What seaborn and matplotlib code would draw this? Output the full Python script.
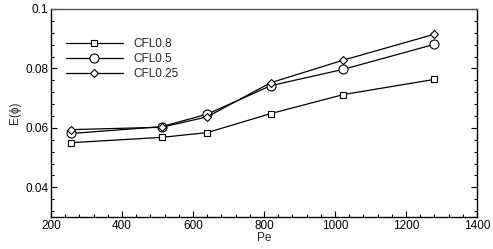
import numpy as np
import pandas as pd
import seaborn as sns
import matplotlib.pyplot as plt
from matplotlib.ticker import MultipleLocator

# Data
pe = [256, 512, 640, 819.2, 1024, 1280]
cfl08 = [0.0550, 0.0568, 0.0584, 0.0648, 0.0712, 0.0763]
cfl05 = [0.0581, 0.0604, 0.0646, 0.0742, 0.0797, 0.0881]
cfl025 = [0.0594, 0.0602, 0.0637, 0.0752, 0.0828, 0.0915]
names = ['CFL0.8', 'CFL0.5', 'CFL0.25']
marks = ['s', 'o', 'D']
msizes = [4.5, 6.5, 4.5]

sns.set_style('ticks')
plt.rcParams['font.family'] = ['Liberation Sans', 'DejaVu Sans']
plt.rcParams['font.size'] = 8.5

data = pd.DataFrame({'Pe': pe, 'CFL0.8': cfl08, 'CFL0.5': cfl05, 'CFL0.25': cfl025})

fig, ax = plt.subplots(figsize=(4.93, 2.49), dpi=100)
fig.subplots_adjust(left=0.1034, right=0.9675, top=0.964, bottom=0.1285)

for name, m, ms in zip(names, marks, msizes):
    sns.lineplot(data=data, x='Pe', y=name, ax=ax, color='black', lw=0.9,
                 marker=m, markersize=ms, markerfacecolor='white',
                 markeredgecolor='black', markeredgewidth=0.8, label=name)

ax.set_xlim(200, 1400)
ax.set_ylim(0.03, 0.1)
ax.xaxis.set_major_locator(MultipleLocator(200))
ax.xaxis.set_minor_locator(MultipleLocator(40))
ax.yaxis.set_major_locator(MultipleLocator(0.02))
ax.yaxis.set_minor_locator(MultipleLocator(0.004))
ax.set_yticks([0.04, 0.06, 0.08, 0.1])
ax.set_yticklabels(['0.04', '0.06', '0.08', '0.1'])
ax.tick_params(which='both', direction='in', left=True, right=True, top=False,
               bottom=True, labelsize=8.5, colors='black', pad=2)
ax.tick_params(which='major', length=4, width=0.8)
ax.tick_params(which='minor', length=2, width=0.8)
for s in ax.spines.values():
    s.set_color('black')
    s.set_linewidth(1)
ax.spines['top'].set_color('#555555')

ax.set_xlabel('Pe', fontsize=8.5, labelpad=0)
ax.set_ylabel('E(ϕ)', fontsize=8.5, labelpad=3)

ax.legend(loc='upper left', bbox_to_anchor=(0.01, 0.91), frameon=False,
          handlelength=4.8, handletextpad=0.9, labelspacing=0.25, fontsize=8.5)

plt.savefig('out.png', dpi=100)
